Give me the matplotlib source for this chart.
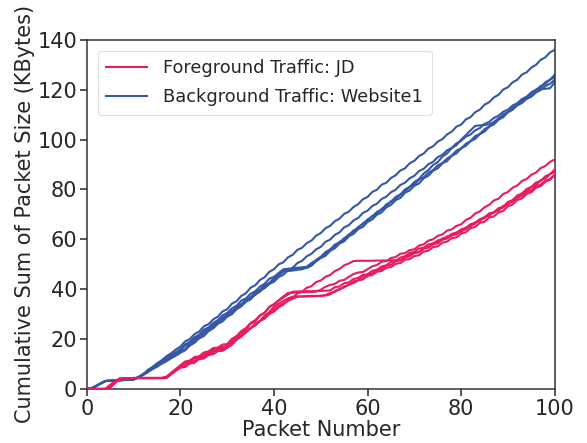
import numpy as np
import matplotlib
matplotlib.use("Agg")
import matplotlib.pyplot as plt

# Packet sizes (KBytes) for the first 100 packets of each trace
fg_sizes = [
    [0.0, 0.0, 0.0, 0.1, 1.6, 1.4, 1.1, 0.0, 0.1, 0.0,
     0.0, 0.0, 0.0, 0.0, 0.0, 0.0, 0.1, 1.5, 1.6, 1.5,
     0.3, 1.5, 0.2, 1.4, 0.4, 1.5, 0.2, 1.2, 0.1, 1.2,
     1.9, 0.9, 1.8, 1.0, 1.9, 0.9, 1.8, 1.0, 1.9, 0.9,
     1.8, 1.0, 1.9, 0.9, 1.7, 0.7, 1.6, 0.6, 1.7, 0.6,
     1.5, 0.7, 1.6, 0.8, 1.5, 0.7, 1.0, 0.1, 0.0, 0.0,
     0.0, 0.1, 0.0, 0.0, 0.1, 0.0, 0.0, 1.0, 1.2, 0.8,
     0.3, 1.6, 0.4, 1.5, 0.5, 1.5, 0.4, 1.4, 0.5, 1.3,
     0.5, 1.6, 0.5, 1.5, 0.6, 1.6, 0.4, 1.5, 0.6, 1.7,
     0.6, 1.7, 0.6, 1.6, 0.7, 1.7, 0.5, 1.6, 0.7, 1.8],
    [0.0, 0.0, 0.0, 0.0, 0.8, 1.7, 1.5, 0.2, 0.0, 0.2,
     0.0, 0.0, 0.0, 0.0, 0.0, 0.0, 0.5, 1.6, 1.5, 1.5,
     1.5, 0.4, 1.4, 0.3, 1.5, 0.5, 1.3, 0.2, 1.2, 0.2,
     2.1, 1.1, 2.0, 1.2, 2.1, 1.1, 1.9, 1.1, 2.2, 1.2,
     1.6, 1.5, 1.4, 0.1, 0.1, 0.1, 0.1, 0.0, 0.1, 0.8,
     1.2, 0.7, 0.4, 1.3, 0.3, 1.3, 1.1, 0.6, 0.2, 1.1,
     1.2, 0.5, 1.3, 0.3, 1.2, 0.4, 1.3, 0.3, 1.2, 0.3,
     1.5, 0.5, 1.5, 0.5, 1.4, 0.6, 1.5, 0.5, 1.4, 0.6,
     1.8, 0.8, 1.8, 0.8, 1.7, 0.9, 1.8, 0.7, 1.9, 0.8,
     1.7, 0.9, 1.8, 0.8, 1.7, 0.9, 1.8, 0.8, 1.7, 0.9],
    [0.0, 0.0, 0.0, 0.0, 0.6, 1.8, 1.4, 0.3, 0.1, 0.2,
     0.0, 0.0, 0.0, 0.0, 0.0, 0.0, 0.3, 1.4, 1.2, 1.2,
     0.3, 1.4, 0.3, 1.5, 0.2, 1.4, 0.3, 1.3, 0.1, 1.2,
     1.2, 2.1, 1.1, 2.1, 1.2, 2.0, 1.1, 2.1, 1.5, 2.1,
     1.2, 1.1, 1.0, 0.7, 0.1, 0.0, 0.1, 0.1, 0.0, 0.1,
     0.1, 0.4, 1.4, 0.5, 1.3, 0.6, 1.4, 0.5, 1.4, 1.0,
     0.3, 1.4, 0.4, 1.4, 0.3, 1.4, 0.4, 1.3, 0.3, 1.3,
     0.3, 1.5, 0.4, 1.4, 0.3, 1.5, 0.4, 1.4, 0.3, 1.5,
     0.5, 1.8, 0.5, 1.7, 0.6, 1.8, 0.4, 1.7, 0.6, 1.9,
     0.7, 1.9, 0.7, 1.9, 0.8, 1.8, 0.6, 1.9, 0.8, 1.9],
    [0.0, 0.0, 0.0, 0.0, 1.0, 1.6, 1.5, 0.1, 0.1, 0.1,
     0.0, 0.0, 0.0, 0.0, 0.0, 0.0, 0.2, 1.5, 1.4, 1.5,
     1.4, 0.4, 1.4, 0.3, 1.5, 0.4, 1.2, 0.2, 1.1, 0.1,
     2.3, 1.1, 2.2, 1.2, 2.3, 1.1, 2.2, 1.2, 2.3, 1.1,
     1.4, 1.3, 1.2, 1.1, 0.1, 0.0, 0.1, 0.0, 0.1, 0.0,
     0.1, 0.1, 1.3, 0.3, 1.3, 0.3, 1.4, 0.4, 1.2, 0.3,
     1.4, 0.4, 1.3, 0.5, 1.4, 0.4, 1.3, 0.5, 1.4, 0.4,
     1.3, 0.4, 1.3, 0.3, 1.3, 0.3, 1.3, 0.3, 1.2, 0.3,
     1.7, 0.5, 1.6, 0.5, 1.7, 0.5, 1.5, 0.5, 1.9, 0.6,
     1.8, 0.8, 1.9, 0.7, 1.8, 0.8, 1.9, 0.7, 1.8, 0.8],
    [0.0, 0.0, 0.0, 0.0, 1.2, 1.5, 1.4, 0.1, 0.1, 0.1,
     0.0, 0.0, 0.0, 0.0, 0.0, 0.0, 0.1, 1.4, 1.4, 1.5,
     0.4, 1.6, 0.3, 1.5, 0.4, 1.5, 0.3, 1.3, 0.2, 1.2,
     1.0, 1.9, 1.0, 1.9, 1.0, 1.9, 1.0, 1.9, 1.0, 1.9,
     1.2, 1.1, 1.0, 0.9, 0.8, 0.1, 0.0, 0.1, 0.0, 0.1,
     0.3, 0.9, 0.4, 1.3, 0.5, 1.3, 0.4, 1.2, 0.3, 1.4,
     0.4, 1.3, 0.3, 1.3, 0.3, 1.3, 0.3, 1.3, 0.3, 1.2,
     0.3, 1.5, 0.4, 1.4, 0.3, 1.5, 0.4, 1.4, 0.3, 1.5,
     0.5, 1.7, 0.5, 1.6, 0.5, 1.7, 0.4, 1.6, 0.6, 1.9,
     0.7, 1.8, 0.6, 1.8, 0.7, 1.8, 0.6, 1.8, 0.8, 1.9],
]

bg_sizes = [
    [0.2, 0.9, 1.1, 1.0, 0.1, 0.1, 0.1, 0.1, 0.1, 0.1,
     1.0, 1.1, 1.7, 1.2, 1.5, 1.2, 1.6, 1.2, 1.5, 1.2,
     2.1, 0.9, 2.0, 1.0, 2.1, 0.9, 1.9, 1.1, 2.1, 0.9,
     2.2, 1.0, 2.1, 1.1, 2.2, 1.0, 2.1, 1.1, 2.2, 1.0,
     2.0, 0.8, 2.0, 1.0, 2.0, 0.8, 1.9, 1.0, 2.0, 1.0,
     2.0, 0.9, 1.9, 1.0, 1.9, 0.9, 1.9, 1.1, 2.0, 0.9,
     2.0, 0.9, 2.0, 0.8, 1.9, 1.1, 1.9, 0.9, 2.0, 1.0,
     1.9, 1.0, 2.0, 0.9, 1.9, 1.0, 1.9, 1.1, 2.0, 0.8,
     2.1, 0.9, 2.0, 1.0, 2.0, 1.0, 1.9, 1.1, 2.1, 0.9,
     2.0, 1.0, 2.1, 0.9, 1.9, 1.1, 2.0, 1.0, 2.0, 1.0],
    [0.3, 1.0, 1.0, 0.9, 0.1, 0.1, 0.1, 0.1, 0.1, 0.1,
     0.8, 1.0, 1.2, 1.3, 1.1, 1.2, 1.1, 1.3, 1.0, 1.2,
     0.9, 2.1, 1.0, 2.0, 0.9, 2.1, 1.0, 2.0, 1.0, 2.0,
     0.9, 2.0, 1.0, 1.9, 0.9, 2.0, 1.0, 1.9, 0.9, 2.0,
     1.6, 1.4, 0.2, 0.2, 0.2, 0.2, 0.2, 0.9, 1.8, 1.3,
     0.9, 2.0, 1.0, 1.9, 0.9, 2.0, 1.0, 1.9, 0.9, 2.0,
     1.0, 1.9, 0.9, 2.0, 1.0, 1.9, 0.9, 2.1, 0.9, 1.9,
     0.9, 2.1, 1.0, 2.0, 1.0, 2.0, 0.9, 2.1, 1.0, 2.0,
     1.0, 1.9, 0.9, 1.9, 1.0, 2.0, 0.9, 1.9, 1.0, 2.0,
     1.0, 2.0, 0.9, 2.1, 1.0, 2.0, 0.9, 2.1, 1.0, 2.0],
    [0.2, 1.1, 1.0, 0.9, 0.1, 0.1, 0.1, 0.1, 0.1, 0.1,
     1.0, 1.1, 1.3, 1.2, 1.3, 1.0, 1.4, 1.2, 1.0, 1.2,
     1.9, 0.9, 1.8, 1.0, 1.9, 0.9, 1.8, 1.0, 1.8, 1.0,
     1.8, 0.9, 1.8, 1.0, 1.9, 0.8, 1.8, 0.9, 1.8, 0.8,
     1.9, 0.9, 1.8, 1.0, 1.9, 0.9, 1.8, 1.0, 1.8, 1.0,
     2.0, 0.9, 1.9, 1.0, 2.0, 0.9, 1.9, 1.0, 2.0, 0.9,
     1.9, 0.9, 1.9, 0.9, 1.8, 1.0, 1.9, 0.9, 1.8, 1.0,
     1.9, 0.9, 1.8, 1.0, 1.9, 0.9, 1.8, 1.0, 1.8, 1.0,
     1.7, 0.8, 1.7, 0.9, 1.7, 0.8, 1.6, 0.9, 1.6, 0.8,
     1.7, 0.9, 1.7, 0.9, 1.7, 0.9, 1.7, 0.9, 1.7, 0.9],
    [0.2, 1.0, 1.1, 0.9, 0.1, 0.1, 0.1, 0.1, 0.1, 0.1,
     0.8, 1.0, 1.1, 1.2, 1.0, 1.2, 1.0, 1.2, 1.0, 1.2,
     1.0, 1.9, 1.1, 1.8, 0.9, 2.0, 1.1, 1.8, 1.0, 1.9,
     1.0, 2.0, 1.1, 1.9, 0.9, 2.1, 1.0, 2.0, 1.1, 1.9,
     1.6, 1.4, 0.3, 0.2, 0.3, 0.2, 0.9, 1.6, 0.9, 1.6,
     1.0, 2.0, 1.1, 1.9, 0.9, 2.1, 1.0, 2.0, 1.1, 1.9,
     1.1, 1.9, 0.9, 2.1, 1.0, 2.0, 1.0, 2.0, 1.1, 1.9,
     1.2, 2.2, 1.4, 2.0, 1.2, 2.2, 1.3, 2.1, 1.2, 2.2,
     1.8, 1.9, 1.8, 0.2, 0.2, 0.2, 0.9, 1.6, 0.9, 1.6,
     1.0, 1.6, 1.0, 1.6, 0.9, 1.7, 1.0, 1.6, 0.9, 1.6],
    [0.3, 0.9, 1.1, 0.9, 0.1, 0.1, 0.1, 0.1, 0.1, 0.1,
     0.9, 1.1, 1.3, 1.4, 1.2, 1.3, 1.2, 1.4, 1.1, 1.3,
     1.9, 1.0, 1.8, 1.1, 2.0, 0.9, 1.8, 1.1, 1.9, 1.0,
     1.8, 1.1, 2.0, 0.9, 1.9, 1.0, 1.8, 1.2, 2.0, 0.8,
     1.5, 1.5, 0.2, 0.2, 0.2, 0.2, 0.2, 1.3, 1.4, 1.3,
     1.9, 1.0, 2.0, 0.8, 1.8, 1.2, 1.9, 0.9, 1.9, 1.1,
     1.9, 1.0, 1.8, 1.1, 2.0, 0.9, 1.8, 1.1, 1.9, 1.0,
     2.0, 0.9, 1.8, 1.1, 1.9, 0.9, 1.8, 1.2, 2.0, 0.9,
     1.8, 1.1, 2.0, 0.9, 1.9, 1.0, 1.8, 1.2, 2.0, 0.8,
     1.9, 1.1, 1.9, 1.1, 1.9, 1.1, 0.2, 0.2, 0.2, 2.4],
]

fg_label = "Foreground Traffic: JD"
bg_label = "Background Traffic: Website1"
x_label = "Packet Number"
y_label = "Cumulative Sum of Packet Size (KBytes)"
x_ticks = [0, 20, 40, 60, 80, 100]
y_ticks = [0, 20, 40, 60, 80, 100, 120, 140]

FG_COLOR = "#E91A5E"
BG_COLOR = "#3557A6"
TEXT_COLOR = "#262626"

plt.rcParams["font.family"] = ["DejaVu Sans"]

fig = plt.figure(figsize=(5.87, 4.43), dpi=100)
ax = fig.add_axes([0.148, 0.122, 0.797, 0.788])

def cumulative(sizes):
    return np.concatenate([[0.0], np.cumsum(sizes)])

packets = np.arange(0, 101)
for i, s in enumerate(bg_sizes):
    ax.plot(packets, cumulative(s), color=BG_COLOR, lw=1.5,
            label=bg_label if i == 0 else None, zorder=2)
for i, s in enumerate(fg_sizes):
    ax.plot(packets, cumulative(s), color=FG_COLOR, lw=1.5,
            label=fg_label if i == 0 else None, zorder=3)

ax.set_xlim(0, 100)
ax.set_ylim(0, 140)
ax.set_xticks(x_ticks)
ax.set_yticks(y_ticks)
ax.set_xlabel(x_label, fontsize=15, color=TEXT_COLOR, labelpad=1)
ax.set_ylabel(y_label, fontsize=15, color=TEXT_COLOR, labelpad=2)
ax.tick_params(axis="both", labelsize=15, colors=TEXT_COLOR, length=5,
               width=1.1, direction="out", pad=2)
for sp in ax.spines.values():
    sp.set_color("#333333")
    sp.set_linewidth(1.1)

handles, labels = ax.get_legend_handles_labels()
order = [labels.index(fg_label), labels.index(bg_label)]
leg = ax.legend([handles[k] for k in order], [labels[k] for k in order],
                loc="upper left", fontsize=12.8, frameon=True, fancybox=True,
                borderpad=0.5, handlelength=2.3, handletextpad=0.9,
                labelspacing=0.6, bbox_to_anchor=(0.0, 1.0),
                borderaxespad=0.6)
leg.get_frame().set_edgecolor("#d9d9d9")
leg.get_frame().set_linewidth(0.8)
for t in leg.get_texts():
    t.set_color(TEXT_COLOR)

fig.savefig("out.png", dpi=100)
